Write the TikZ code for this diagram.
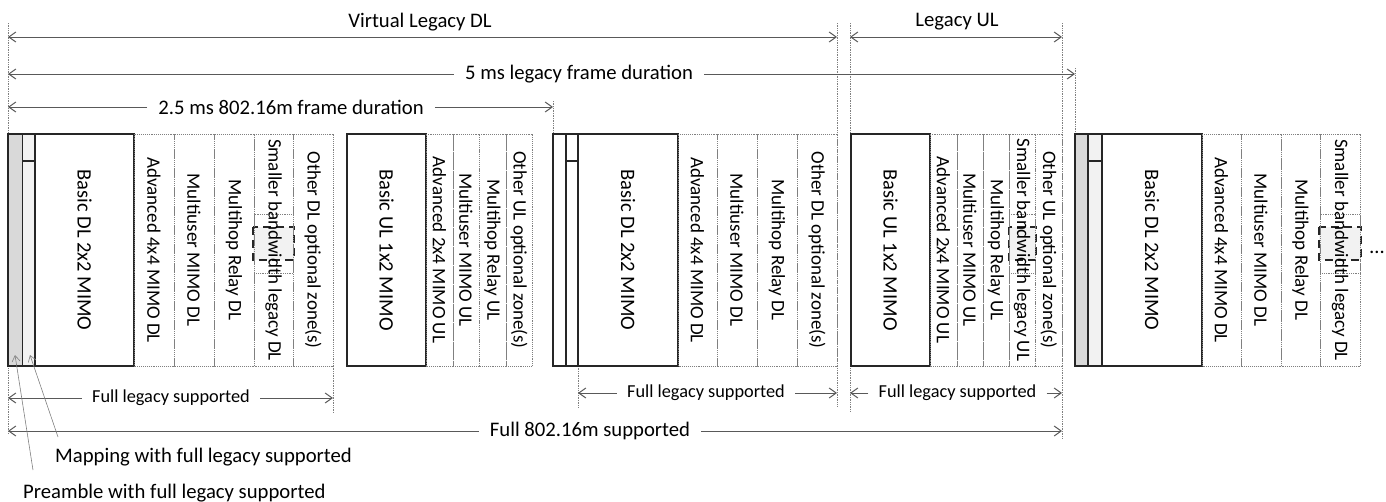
\documentclass[tikz,border=0pt]{standalone}
\usepackage{fontspec}
\setmainfont{Carlito}
\usetikzlibrary{arrows.meta}
\definecolor{preamblegray}{HTML}{D9D9D9}
\definecolor{mapgray}{HTML}{F2F2F2}
\definecolor{linegray}{HTML}{595959}
\definecolor{dotgray}{HTML}{808080}

% one zone of a frame: name, left x, right x, style, label
\newcommand\zonebox[5]{%
  \node[#4, minimum height={(#3-#2)*1pt}] (#1) at ({(#2+#3)/2},250) {#5};}

\tikzset{
  zone/.style={rotate=-90, inner sep=0pt, minimum width=232pt,
    font=\fontsize{19}{21}\selectfont, text=black},
  solidzone/.style={zone, draw=black!85, line width=1.1pt},
  basiczone/.style={solidzone, font=\fontsize{20.5}{22}\selectfont},
  dotzone/.style={zone, draw=dotgray, densely dotted, line width=0.9pt},
  guide/.style={draw=dotgray, densely dotted, line width=0.7pt},
  subzone/.style={draw=dotgray, densely dotted, line width=0.8pt},
  dashbox/.style={draw=black!85, fill=mapgray, dash pattern=on 8pt off 5pt, line width=2.6pt},
  barb/.tip={Straight Barb[length=7pt,width=10pt]},
  dim/.style={draw=linegray, line width=1pt, barb-barb},
  half/.style={draw=linegray, line width=1pt, -barb},
  leader/.style={draw=dotgray, line width=0.6pt, -{Straight Barb[length=6pt,width=8pt]}},
  toplabel/.style={font=\fontsize{20.7}{23}\selectfont, inner xsep=11pt, inner ysep=0pt},
  lowlabel/.style={font=\fontsize{18.3}{21}\selectfont, inner xsep=10pt, inner ysep=0pt},
  note/.style={font=\fontsize{20.7}{23}\selectfont, inner sep=0pt, anchor=west},
}

\begin{document}
\begin{tikzpicture}[x=1pt, y=-1pt]
\useasboundingbox (0,0) rectangle (1386,501);

% dotted guide lines marking the frame boundaries
\draw[guide] (8,23) -- (8,433);
\draw[guide] (837,23) -- (837,407);
\draw[guide] (850,23) -- (850,412);
\draw[guide] (1062,23) -- (1062,438);
\draw[guide] (1075,68) -- (1075,134);
\draw[guide] (553,101) -- (553,134);
\draw[guide] (333,366) -- (333,412);
\draw[guide] (578,366) -- (578,407);

% smaller-bandwidth legacy sub-zones
\draw[subzone] (254,214) rectangle (293,273);
\draw[dashbox] (253,227) rectangle (294,260);
\draw[subzone] (1009,214) rectangle (1035,273);
\draw[dashbox] (1009,227) rectangle (1036,260);
\draw[subzone] (1320,214) rectangle (1360,273);
\draw[dashbox] (1319,227) rectangle (1361,260);

% first DL subframe
\zonebox{pre1}{8}{22.7}{solidzone, fill=preamblegray}{}
\zonebox{map1}{22.7}{35}{solidzone, fill=mapgray}{}
\draw[black!85, line width=1.1pt] (22.7,161) -- (35,161);
\zonebox{bas1}{35}{134}{basiczone}{Basic DL 2x2 MIMO}
\zonebox{adv1}{134}{174}{dotzone}{Advanced 4x4 MIMO DL}
\zonebox{mu1}{174}{214}{dotzone}{Multiuser MIMO DL}
\zonebox{mh1}{214}{254}{dotzone}{Multihop Relay DL}
\zonebox{sb1}{254}{293}{dotzone}{Smaller bandwidth legacy DL}
\zonebox{oth1}{293}{333}{dotzone}{Other DL optional zone(s)}

% first UL subframe
\zonebox{bas2}{347}{426}{basiczone}{Basic UL 1x2 MIMO}
\zonebox{adv2}{426}{453}{dotzone}{Advanced 2x4 MIMO UL}
\zonebox{mu2}{453}{479}{dotzone}{Multiuser MIMO UL}
\zonebox{mh2}{479}{506}{dotzone}{Multihop Relay UL}
\zonebox{oth2}{506}{532}{dotzone}{Other UL optional zone(s)}

% second DL subframe
\zonebox{pre3}{553}{566}{solidzone}{}
\zonebox{map3}{566}{578}{solidzone}{}
\draw[black!85, line width=1.1pt] (566,161) -- (578,161);
\zonebox{bas3}{578}{678}{basiczone}{Basic DL 2x2 MIMO}
\zonebox{adv3}{678}{717}{dotzone}{Advanced 4x4 MIMO DL}
\zonebox{mu3}{717}{757}{dotzone}{Multiuser MIMO DL}
\zonebox{mh3}{757}{797}{dotzone}{Multihop Relay DL}
\zonebox{oth3}{797}{837}{dotzone}{Other DL optional zone(s)}

% second UL subframe
\zonebox{bas4}{851}{930}{basiczone}{Basic UL 1x2 MIMO}
\zonebox{adv4}{930}{957}{dotzone}{Advanced 2x4 MIMO UL}
\zonebox{mu4}{957}{983}{dotzone}{Multiuser MIMO UL}
\zonebox{mh4}{983}{1009}{dotzone}{Multihop Relay UL}
\zonebox{sb4}{1009}{1035}{dotzone}{Smaller bandwidth legacy UL}
\zonebox{oth4}{1035}{1062}{dotzone}{Other UL optional zone(s)}

% next frame
\zonebox{pre5}{1075}{1088}{solidzone, fill=preamblegray}{}
\zonebox{map5}{1088}{1102}{solidzone, fill=mapgray}{}
\draw[black!85, line width=1.1pt] (1088,161) -- (1102,161);
\zonebox{bas5}{1102}{1202}{basiczone}{Basic DL 2x2 MIMO}
\zonebox{adv5}{1202}{1241}{dotzone}{Advanced 4x4 MIMO DL}
\zonebox{mu5}{1241}{1281}{dotzone}{Multiuser MIMO DL}
\zonebox{mh5}{1281}{1320}{dotzone}{Multihop Relay DL}
\zonebox{sb5}{1320}{1360}{dotzone}{Smaller bandwidth legacy DL}
\node[font=\fontsize{20.7}{23}\selectfont] (more) at (1377,252) {…};

% duration markers above the frames
\coordinate (vlL) at (8,37);
\coordinate (vlR) at (837,37);
\coordinate (ulL) at (850,37);
\coordinate (ulR) at (1062,37);
\node[toplabel] (vl) at (420,22) {Virtual Legacy DL};
\node[toplabel] (ul) at (957,22) {Legacy UL};
\draw[dim] (vlL) -- (vlR);
\draw[dim] (ulL) -- (ulR);

\coordinate (f5L) at (8,75);
\coordinate (f5R) at (1075,75);
\node[toplabel] (f5) at (579,74) {5 ms legacy frame duration};
\draw[half] (f5.west) -- (f5.west -| f5L);
\draw[half] (f5.east) -- (f5.east -| f5R);

\coordinate (f25L) at (8,108);
\coordinate (f25R) at (553,108);
\node[toplabel] (f25) at (291,107) {2.5 ms 802.16m frame duration};
\draw[half] (f25.west) -- (f25.west -| f25L);
\draw[half] (f25.east) -- (f25.east -| f25R);

% support ranges below the frames
\coordinate (fl1L) at (8,399);
\coordinate (fl1R) at (333,399);
\node[lowlabel] (fl1) at (171,398) {Full legacy supported};
\draw[half] (fl1.west) -- (fl1.west -| fl1L);
\draw[half] (fl1.east) -- (fl1.east -| fl1R);

\coordinate (fl2L) at (578,394);
\coordinate (fl2R) at (837,394);
\node[lowlabel] (fl2) at (706,393) {Full legacy supported};
\draw[half] (fl2.west) -- (fl2.west -| fl2L);
\draw[half] (fl2.east) -- (fl2.east -| fl2R);

\coordinate (fl3L) at (850,394);
\coordinate (fl3R) at (1062,394);
\node[lowlabel] (fl3) at (957.5,393) {Full legacy supported};
\draw[half] (fl3.west) -- (fl3.west -| fl3L);
\draw[half] (fl3.east) -- (fl3.east -| fl3R);

\coordinate (fmL) at (8,432);
\coordinate (fmR) at (1062,432);
\node[toplabel] (fm) at (590,431) {Full 802.16m supported};
\draw[half] (fm.west) -- (fm.west -| fmL);
\draw[half] (fm.east) -- (fm.east -| fmR);

% callouts for the preamble and mapping columns
\node[note] (mapnote) at (55,457) {Mapping with full legacy supported};
\node[note] (prenote) at (23,493) {Preamble with full legacy supported};
\coordinate (maptail) at (58,437);
\coordinate (maptip) at (30,355);
\coordinate (pretail) at (33,470);
\coordinate (pretip) at (15,355);
\draw[leader] (maptail) -- (maptip);
\draw[leader] (pretail) -- (pretip);
\end{tikzpicture}
\end{document}
